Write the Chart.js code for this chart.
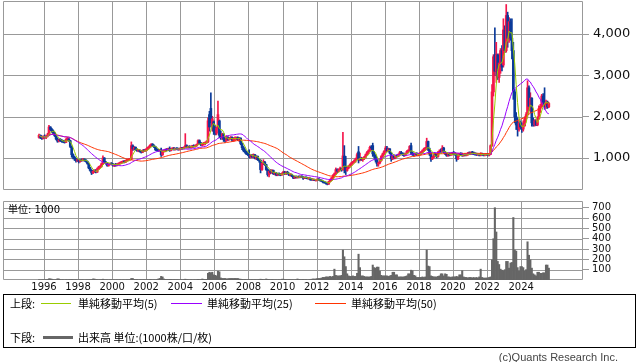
<!DOCTYPE html>
<html>
<head>
<meta charset="utf-8">
<script src="https://cdn.jsdelivr.net/npm/chart.js@4.4.1/dist/chart.umd.min.js"></script>
<style>
  body { margin: 0; background: #fff; }
  #wrap { position: relative; width: 638px; height: 362px; overflow: hidden;
          font-family: "DejaVu Sans", "Noto Sans CJK JP", sans-serif; color: #000; }
  #price { position: absolute; left: 0; top: 0; }
  #vol { position: absolute; left: 0; top: 195px; }
  .txt { position: absolute; white-space: nowrap; line-height: 12px; }
  .jp { font-family: "Noto Sans CJK JP", sans-serif; font-size: 11px; }
  .ln { position: absolute; height: 1px; }
  #legend { position: absolute; left: 3px; top: 294px; width: 633px; height: 54px;
            border: 1px solid #000; box-sizing: border-box; }
</style>
</head>
<body>
<div id="wrap">
  <canvas id="price" width="638" height="191"></canvas>
  <canvas id="vol" width="638" height="100"></canvas>
  <div class="txt" style="left:8px;top:204px;font-size:10px;">単位: 1000</div>

  <div id="legend"></div>
  <div class="txt jp" style="left:10px;top:297px;">上段:</div>
  <div class="ln" style="left:41px;top:303px;width:30px;background:#99cc00;"></div>
  <div class="txt jp" style="left:78px;top:297px;">単純移動平均(5)</div>
  <div class="ln" style="left:171px;top:303px;width:31px;background:#9900ff;"></div>
  <div class="txt jp" style="left:207px;top:297px;">単純移動平均(25)</div>
  <div class="ln" style="left:315px;top:303px;width:31px;background:#ff3300;"></div>
  <div class="txt jp" style="left:351px;top:297px;">単純移動平均(50)</div>

  <div class="txt jp" style="left:10px;top:331px;">下段:</div>
  <div class="ln" style="left:43px;top:336px;width:30px;height:3px;background:#666;"></div>
  <div class="txt jp" style="left:78px;top:331px;">出来高 単位:(1000株/口/枚)</div>

  <div class="txt" style="right:20px;top:351px;font-family:'Liberation Sans',sans-serif;font-size:11px;color:#444;">(c)Quants Research Inc.</div>
</div>

<script>
// monthly candles, first one is Sep 1995
const FIRST_YEAR = 1995;
const FIRST_MONTH = 8;

const opens = [
  1500,1550,1500,1480,
  1520,1500,1530,1560,1750,1690,1650,1600,1540,1460,1410,1440,
  1420,1400,1390,1380,1450,1460,1420,1280,1080,1020,980,940,
  960,920,950,940,970,950,920,870,760,700,640,680,
  700,660,740,780,800,860,1000,900,870,820,850,870,
  850,820,840,830,850,870,880,900,910,900,940,950,
  960,970,1300,1220,1260,1200,1180,1190,1160,1140,1180,1170,
  1200,1230,1260,1300,1330,1300,1270,1200,1190,1180,1200,1080,
  1160,1180,1200,1190,1230,1180,1220,1230,1210,1230,1220,1200,
  1230,1240,1230,1260,1300,1260,1280,1260,1270,1300,1280,1300,
  1330,1420,1360,1320,1340,1350,1370,1390,2050,2200,1750,1880,
  1650,1600,1720,1900,1550,1500,1580,1450,1420,1500,1450,1480,
  1500,1430,1470,1480,1500,1450,1480,1350,1250,1180,1150,1100,
  1080,1040,1060,1030,1080,1000,1040,960,940,720,880,900,
  840,720,600,680,650,700,620,640,590,610,600,590,
  630,660,620,650,630,590,600,570,520,540,530,550,
  540,550,540,510,530,520,500,510,480,470,480,460,
  470,480,470,450,440,410,400,390,370,430,470,520,
  580,620,720,680,720,740,720,1050,800,700,760,800,
  840,880,900,940,980,1150,950,980,960,1000,1020,1080,
  1140,1180,1260,1300,1100,1050,950,860,880,940,1040,1100,
  1160,1240,1180,1220,1120,980,1040,1000,1050,1040,1090,1130,
  1100,1080,1060,1110,1160,1190,1300,1120,1090,1080,1100,1080,
  1090,1100,1140,1180,1220,1240,1400,1220,1100,980,1020,1080,
  1060,1040,1140,1170,1150,1240,1140,1100,1060,1080,1070,1100,
  1120,1100,1080,980,1060,1100,1080,1060,1090,1070,1080,1120,
  1100,1130,1110,1100,1090,1080,1090,1070,1100,1080,1070,1080,
  1090,1070,1090,1300,2600,3500,3100,3500,2950,3300,3600,3250,
  4100,3600,4450,3900,4300,3900,3600,2600,2000,1850,1700,1850,
  1750,1700,1780,1950,2050,2700,2250,2450,1850,1800,1900,1800,
  1950,2200,2250,2500,2350,2300,2350,2240
];
const highs = [
  1580,1560,1530,1540,
  1560,1540,1600,1790,1760,1720,1680,1620,1560,1490,1460,1470,
  1450,1430,1420,1470,1500,1480,1430,1290,1100,1040,1000,980,
  970,960,980,990,980,960,930,880,780,720,700,720,
  720,760,800,820,880,1050,1010,920,890,860,880,890,
  870,850,870,860,880,900,920,930,940,950,970,980,
  990,1390,1320,1280,1270,1220,1210,1200,1180,1200,1210,1220,
  1250,1280,1320,1350,1350,1320,1280,1230,1210,1210,1240,1180,
  1200,1220,1230,1240,1270,1230,1250,1260,1240,1250,1240,1240,
  1260,1260,1270,1590,1320,1290,1300,1290,1310,1320,1310,1340,
  1440,1440,1380,1360,1380,1390,1420,1970,2130,2580,2010,1900,
  1800,1750,2380,1920,1650,1600,1590,1520,1540,1520,1500,1520,
  1510,1490,1510,1510,1510,1500,1490,1360,1280,1220,1170,1130,
  1200,1080,1090,1100,1090,1060,1050,980,960,900,960,920,
  850,740,700,720,720,710,660,650,630,640,620,640,
  680,680,670,680,640,620,610,580,560,570,560,560,
  560,570,550,540,540,530,520,520,500,490,490,480,
  490,500,480,470,450,430,420,400,440,490,530,600,
  640,760,740,740,780,760,1620,1300,1040,780,820,860,
  900,920,960,1000,1120,1280,1120,1020,1010,1040,1100,1160,
  1200,1290,1300,1360,1160,1080,980,900,960,1060,1120,1180,
  1280,1280,1240,1230,1130,1060,1080,1060,1080,1100,1160,1160,
  1130,1120,1120,1180,1200,1300,1360,1150,1120,1120,1130,1110,
  1130,1160,1200,1240,1260,1480,1410,1240,1120,1040,1100,1120,
  1100,1160,1200,1220,1300,1260,1160,1120,1100,1120,1110,1140,
  1160,1130,1100,1080,1120,1130,1120,1100,1110,1100,1140,1150,
  1150,1160,1150,1130,1120,1110,1100,1130,1120,1100,1100,1110,
  1110,1100,1320,2780,3500,4150,3800,3520,3520,3650,3720,4370,
  4200,4715,4530,4400,4370,4370,3800,2660,2100,1970,1900,1900,
  1850,1900,2000,2100,2870,2750,2580,2460,1970,1930,1930,2000,
  2260,2300,2540,2560,2700,2400,2380,2340
];
const lows = [
  1480,1470,1450,1460,
  1480,1470,1510,1550,1660,1620,1580,1520,1440,1380,1390,1400,
  1380,1370,1360,1370,1420,1400,1250,1020,980,940,900,910,
  880,900,920,930,920,900,850,740,680,600,620,650,
  640,650,720,760,780,840,880,850,800,800,830,840,
  800,790,800,810,830,850,860,880,880,890,920,930,
  940,960,1180,1200,1180,1160,1150,1140,1120,1130,1160,1160,
  1180,1210,1250,1280,1280,1250,1180,1170,1160,1160,1040,1060,
  1140,1150,1170,1180,1160,1170,1200,1190,1190,1200,1190,1190,
  1200,1210,1220,1240,1240,1240,1240,1240,1250,1260,1260,1280,
  1320,1340,1300,1290,1310,1320,1350,1370,1650,1850,1650,1570,
  1560,1560,1700,1490,1450,1450,1400,1380,1400,1420,1430,1450,
  1400,1400,1420,1440,1420,1400,1320,1200,1150,1120,1080,1060,
  1000,1000,1010,1000,980,960,940,900,640,700,840,820,
  700,560,540,620,630,600,590,570,570,580,570,580,
  610,600,600,610,570,560,550,500,500,510,510,520,
  520,530,480,500,500,490,480,460,460,450,450,440,
  450,460,440,430,400,390,370,350,360,420,450,500,
  560,600,640,660,690,680,700,640,600,680,740,780,
  820,850,880,900,960,880,930,940,920,960,1000,1060,
  1100,1160,1200,1040,1000,900,800,800,860,920,1020,1080,
  1140,1150,1160,1100,920,960,980,980,1020,1030,1060,1080,
  1060,1040,1050,1100,1120,1170,1080,1060,1050,1060,1060,1050,
  1060,1080,1120,1160,1180,1200,1180,1060,920,960,1000,1040,
  1000,1020,1100,1120,1140,1120,1080,1040,1040,1050,1060,1070,
  1080,1060,920,960,1040,1060,1040,1040,1050,1050,1060,1080,
  1080,1090,1080,1070,1060,1060,1050,1050,1060,1050,1050,1060,
  1050,1050,1080,1280,2500,2990,2830,2900,2830,3050,3110,3200,
  3550,3560,3680,3800,3850,3400,2420,1850,1690,1530,1650,1700,
  1620,1650,1770,1900,2010,2150,2100,1770,1770,1770,1780,1780,
  1940,2100,2240,2260,2180,2200,2200,2220
];
const closes = [
  1550,1500,1480,1520,
  1500,1530,1560,1750,1690,1650,1600,1540,1460,1410,1440,1420,
  1400,1390,1380,1450,1460,1420,1280,1080,1020,980,940,960,
  920,950,940,970,950,920,870,760,700,640,680,700,
  660,740,780,800,860,1000,900,870,820,850,870,850,
  820,840,830,850,870,880,900,910,900,940,950,960,
  970,1300,1220,1260,1200,1180,1190,1160,1140,1180,1170,1200,
  1230,1260,1300,1330,1300,1270,1200,1190,1180,1200,1080,1160,
  1180,1200,1190,1230,1180,1220,1230,1210,1230,1220,1200,1230,
  1240,1230,1260,1300,1260,1280,1260,1270,1300,1280,1300,1330,
  1420,1360,1320,1340,1350,1370,1390,1900,1750,1950,1950,1650,
  1600,1720,2050,1550,1500,1580,1450,1420,1500,1450,1480,1500,
  1430,1470,1480,1500,1450,1480,1350,1250,1180,1150,1100,1080,
  1040,1060,1030,1080,1000,1040,960,940,720,880,900,840,
  720,600,680,650,700,620,640,590,610,600,590,630,
  660,620,650,630,590,600,570,520,540,530,550,540,
  550,540,510,530,520,500,510,480,470,480,460,470,
  480,470,450,440,410,400,390,370,430,470,520,580,
  620,720,680,720,740,720,1050,780,700,760,800,840,
  880,900,940,980,1080,950,980,960,1000,1020,1080,1140,
  1180,1260,1240,1100,1050,950,860,880,940,1040,1100,1160,
  1240,1180,1220,1120,980,1040,1000,1050,1040,1090,1130,1100,
  1080,1060,1110,1160,1190,1280,1120,1090,1080,1100,1080,1090,
  1100,1140,1180,1220,1240,1400,1220,1100,980,1020,1080,1060,
  1040,1140,1170,1150,1240,1140,1100,1060,1080,1070,1100,1120,
  1100,1080,980,1060,1100,1080,1060,1090,1070,1080,1120,1100,
  1130,1110,1100,1090,1080,1090,1070,1100,1080,1070,1080,1090,
  1070,1090,1300,2600,3450,3100,3500,2950,3300,3600,3200,4100,
  3600,4450,3900,4300,3900,3600,2600,2000,1800,1700,1850,1750,
  1700,1780,1950,2050,2700,2250,2450,1850,1800,1900,1800,1950,
  2200,2250,2500,2350,2300,2350,2240,2320
];
// volume, unit 1000
const volumes = [
  3,2,2,3,
  3,3,5,12,12,8,4,3,4,12,10,4,
  3,3,2,3,3,3,4,5,3,3,3,2,
  2,2,3,2,2,2,3,3,3,5,10,10,
  5,4,3,3,5,8,4,3,3,2,2,3,
  2,2,2,2,2,2,2,2,2,2,2,3,
  3,15,15,6,5,4,3,3,3,3,3,3,
  3,3,5,4,3,3,3,4,10,15,35,30,
  10,6,5,5,6,5,4,4,4,4,3,3,
  3,3,4,8,5,3,3,3,3,3,3,4,
  6,5,4,10,6,5,6,65,75,70,75,50,
  45,40,85,80,20,15,15,15,12,12,15,15,
  15,15,15,15,15,10,8,6,5,5,4,4,
  4,4,4,4,4,4,4,5,8,6,5,4,
  10,6,5,4,4,4,3,3,3,3,3,8,
  8,5,4,4,4,4,3,3,3,3,10,5,
  4,4,5,4,4,3,3,5,8,10,10,10,
  15,15,15,20,25,25,30,30,30,35,30,35,
  105,45,40,40,40,45,290,225,130,60,40,35,
  35,40,35,35,65,250,120,40,40,35,30,30,
  30,30,35,145,120,115,125,125,85,45,40,40,
  40,40,35,40,45,75,75,50,50,30,30,30,
  30,30,35,40,60,60,95,90,45,40,25,25,
  25,25,30,25,30,290,135,130,40,35,30,30,
  30,35,40,60,60,40,60,55,30,30,25,30,
  30,30,35,30,50,50,90,30,25,25,20,25,
  25,20,25,20,25,20,30,105,25,20,18,20,
  20,25,30,195,400,700,465,180,150,105,95,90,
  100,180,180,115,165,170,605,290,280,120,85,130,
  130,120,85,100,370,240,195,115,60,50,40,75,
  75,65,65,70,70,145,145,115
];

const yearTicks = [1996,1998,2000,2002,2004,2006,2008,2010,2012,2014,2016,2018,2020,2022,2024];
const priceTicks = [1000, 2000, 3000, 4000];
const volumeTicks = [100, 200, 300, 400, 500, 600, 700];

const X_MIN = 1993.594, X_MAX = 2027.63;
const GRID = '#999999';
const UP = '#f5164b', DOWN = '#0a3a9a';

const xs = closes.map((_, i) => FIRST_YEAR + (FIRST_MONTH + i + 0.5) / 12);

function sma(arr, n) {
  return arr.map((_, i) => {
    const part = arr.slice(Math.max(0, i - n + 1), i + 1);
    return part.reduce((a, b) => a + b, 0) / part.length;
  });
}

const candleColor = ctx => closes[ctx.dataIndex] >= opens[ctx.dataIndex] ? UP : DOWN;

// grid and frame of a panel, drawn under the marks
const panelGrid = {
  id: 'panelGrid',
  beforeDatasetsDraw(chart, args, opts) {
    const { ctx, chartArea: a, scales } = chart;
    const L = Math.round(a.left) + 0.5, R = Math.round(a.right) - 0.5;
    const T = Math.round(a.top) + 0.5, B = Math.round(a.bottom) - 0.5;
    ctx.save();
    ctx.strokeStyle = GRID;
    ctx.lineWidth = 1;
    ctx.beginPath();
    yearTicks.forEach(v => {
      const px = Math.round(scales.x.getPixelForValue(v)) + 0.5;
      ctx.moveTo(px, T);
      ctx.lineTo(px, B);
    });
    opts.levels.forEach(v => {
      const py = Math.round(scales.y.getPixelForValue(v)) + 0.5;
      ctx.moveTo(L, py);
      ctx.lineTo(R, py);
    });
    ctx.rect(L, T, R - L, B - T);
    ctx.stroke();
    ctx.restore();
  }
};

function maLine(n, color) {
  const m = sma(closes, n);
  return {
    type: 'line',
    data: xs.map((x, i) => ({ x, y: m[i] })),
    borderColor: color,
    borderWidth: 1,
    pointRadius: 0,
    tension: 0,
    order: 0
  };
}

const xBase = {
  type: 'linear', min: X_MIN, max: X_MAX,
  offset: false,
  grid: { display: false, drawTicks: false, offset: false },
  border: { display: false }
};

function yRight(min, max, ticks, padding, size) {
  return {
    position: 'right', min, max,
    afterBuildTicks: s => { s.ticks = ticks.map(v => ({ value: v })); },
    afterFit: s => {
      s.width = 55;
      s.paddingTop = 0;
      s.paddingBottom = 0;
    },
    grid: { color: GRID, drawOnChartArea: false, tickLength: 6 },
    border: { display: false },
    ticks: {
      color: '#111', padding, autoSkip: false,
      font: { family: 'DejaVu Sans', size },
      callback: v => v.toLocaleString('en-US')
    }
  };
}

/*--------------------------------------------------------------
| Price panel
--------------------------------------------------------------*/
new Chart(document.getElementById('price'), {
  type: 'bar',
  data: {
    datasets: [
      {
        data: xs.map((x, i) => ({ x, y: [lows[i], highs[i]] })),
        backgroundColor: candleColor,
        barThickness: 1,
        grouped: false,
        order: 2
      },
      {
        data: xs.map((x, i) => ({ x, y: [opens[i], closes[i]] })),
        backgroundColor: candleColor,
        barThickness: 2,
        minBarLength: 1,
        grouped: false,
        order: 1
      },
      maLine(5, '#99cc00'),
      maLine(25, '#9900ff'),
      maLine(50, '#ff3300')
    ]
  },
  options: {
    responsive: false,
    animation: false,
    events: [],
    layout: { autoPadding: false, padding: { left: 3, top: 1, right: 0, bottom: 1 } },
    plugins: {
      legend: { display: false },
      tooltip: { enabled: false },
      panelGrid: { levels: priceTicks }
    },
    scales: {
      x: { ...xBase, display: false },
      y: yRight(226, 4800, priceTicks, 4, 13)
    }
  },
  plugins: [panelGrid]
});

/*--------------------------------------------------------------
| Volume panel
--------------------------------------------------------------*/
new Chart(document.getElementById('vol'), {
  type: 'bar',
  data: {
    datasets: [{
      data: xs.map((x, i) => ({ x, y: volumes[i] })),
      backgroundColor: '#666666',
      barPercentage: 1,
      categoryPercentage: 1,
      grouped: false
    }]
  },
  options: {
    responsive: false,
    animation: false,
    events: [],
    layout: { autoPadding: false, padding: { left: 3, top: 6, right: 0, bottom: 0 } },
    plugins: {
      legend: { display: false },
      tooltip: { enabled: false },
      panelGrid: { levels: volumeTicks }
    },
    scales: {
      x: {
        ...xBase,
        afterBuildTicks: s => { s.ticks = yearTicks.map(v => ({ value: v })); },
        afterFit: s => {
          s.height = 15;
          s.paddingLeft = 0;
          s.paddingRight = 0;
        },
        ticks: {
          color: '#111', padding: 1, maxRotation: 0, autoSkip: false,
          font: { family: 'DejaVu Sans', size: 10 },
          callback: v => String(v)
        }
      },
      y: yRight(0, 765, volumeTicks, 3, 10)
    }
  },
  plugins: [panelGrid]
});
</script>
</body>
</html>
